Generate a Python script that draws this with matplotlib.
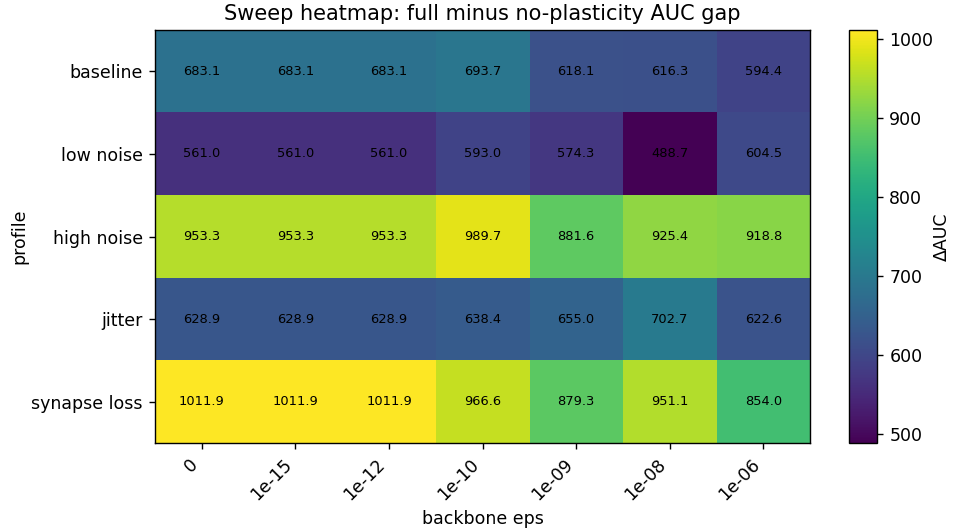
#!/usr/bin/env python3
"""Sweep heatmap: full minus no-plasticity AUC gap across backbone eps."""

import numpy as np
import matplotlib
matplotlib.use("Agg")
import matplotlib.pyplot as plt

# Sweep axes
EPS_LABELS = ["0", "1e-15", "1e-12", "1e-10", "1e-09", "1e-08", "1e-06"]
PROFILES = ["baseline", "low noise", "high noise", "jitter", "synapse loss"]

# AUC gap (full - no plasticity) per profile
baseline = [683.1, 683.1, 683.1, 693.7, 618.1, 616.3, 594.4]
low_noise = [561.0, 561.0, 561.0, 593.0, 574.3, 488.7, 604.5]
high_noise = [953.3, 953.3, 953.3, 989.7, 881.6, 925.4, 918.8]
jitter = [628.9, 628.9, 628.9, 638.4, 655.0, 702.7, 622.6]
synapse_loss = [1011.9, 1011.9, 1011.9, 966.6, 879.3, 951.1, 854.0]

DPI = 125


def main():
    gap = np.array([baseline, low_noise, high_noise, jitter, synapse_loss])

    fig = plt.figure(figsize=(954 / DPI, 532 / DPI), dpi=DPI)
    ax = fig.add_axes([0.1625, 0.1673, 0.6866, 0.7763])
    cax = fig.add_axes([0.890, 0.1673, 0.0294, 0.7763])

    im = ax.imshow(gap, cmap="viridis", aspect="auto", interpolation="nearest")

    # Annotate each cell
    for i in range(gap.shape[0]):
        for j in range(gap.shape[1]):
            ax.text(j, i, f"{gap[i, j]:.1f}", ha="center", va="center",
                    fontsize=7.5, color="black")

    ax.set_xticks(range(len(EPS_LABELS)))
    ax.set_xticklabels(EPS_LABELS, rotation=45, ha="right")
    ax.set_yticks(range(len(PROFILES)))
    ax.set_yticklabels(PROFILES)
    ax.set_xlabel("backbone eps")
    ax.set_ylabel("profile", labelpad=2)
    ax.set_title("Sweep heatmap: full minus no-plasticity AUC gap")

    cbar = fig.colorbar(im, cax=cax)
    cbar.set_label("\u0394AUC", labelpad=0)

    fig.savefig("out.png", dpi=DPI)
    plt.close(fig)


if __name__ == "__main__":
    main()
